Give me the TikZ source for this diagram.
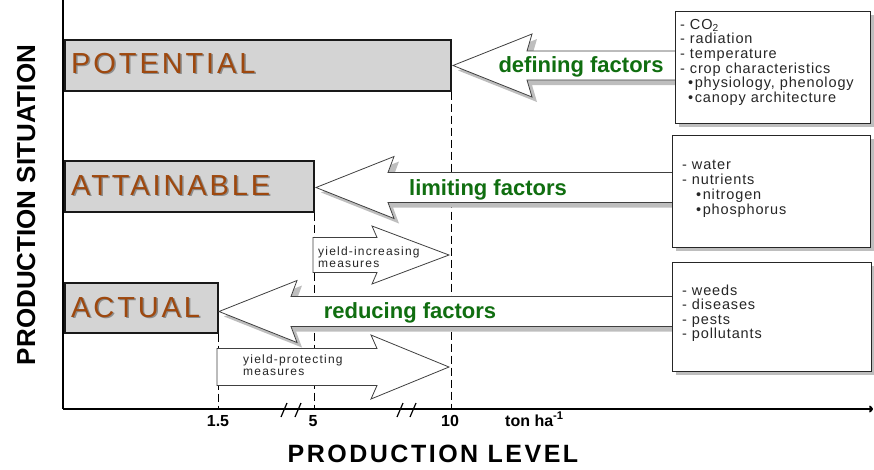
\documentclass[tikz,border=0pt]{standalone}
\usepackage{fontspec}
\setmainfont{Liberation Sans}
\newfontfamily\lblfont[LetterSpace=10]{Liberation Sans}
\newfontfamily\listfont[LetterSpace=6]{Liberation Sans}
\newfontfamily\smallfont[LetterSpace=10]{Liberation Sans}
\newfontfamily\levelfont[LetterSpace=10]{Liberation Sans}
\usetikzlibrary{arrows.meta}
\definecolor{brownlbl}{RGB}{158,72,14}
\definecolor{boxgray}{RGB}{212,212,212}
\definecolor{shadowgray}{RGB}{190,190,190}
\definecolor{greenlbl}{RGB}{16,110,16}
\newcommand{\leftbigarrow}[7]{%
  \fill[shadowgray,shift={(5,5)}] (#1,#2) -- (#3,#2-#7) -- (#4,#2-#6) -- (#5,#2-#6) -- (#5,#2+#6) -- (#4,#2+#6) -- (#3,#2+#7) -- cycle;
  \filldraw[fill=white,draw=black!75,line width=0.8pt] (#1,#2) -- (#3,#2-#7) -- (#4,#2-#6) -- (#5,#2-#6) -- (#5,#2+#6) -- (#4,#2+#6) -- (#3,#2+#7) -- cycle;}
\newcommand{\rightbigarrow}[7]{%
  \filldraw[fill=white,draw=black!75,line width=0.8pt] (#5,#2-#6) -- (#4,#2-#6) -- (#3,#2-#7) -- (#1,#2) -- (#3,#2+#7) -- (#4,#2+#6) -- (#5,#2+#6) -- cycle;}
\begin{document}
\begin{tikzpicture}[x=1pt,y=-1pt,
  lblbox/.style={draw=black!90,line width=1.5pt,fill=boxgray,inner sep=0pt,anchor=north west},
  infobox/.style={draw=black!85,line width=1pt,fill=white,inner sep=0pt,anchor=north west},
  boxshadow/.style={fill=shadowgray,draw=none,inner sep=0pt,anchor=north west},
  lbltxt/.style={anchor=base west,inner sep=0pt,text=brownlbl,font=\lblfont\fontsize{29}{29}\selectfont},
  lblshadow/.style={anchor=base west,inner sep=0pt,text=black!45,font=\lblfont\fontsize{29}{29}\selectfont},
  factortxt/.style={anchor=base,inner sep=0pt,text=greenlbl,font=\bfseries\fontsize{22}{22}\selectfont},
  listtxt/.style={anchor=base west,inner sep=0pt,text=black!85,font=\listfont\fontsize{14.5}{14.5}\selectfont},
  smalltxt/.style={anchor=base west,inner sep=0pt,text=black!85,font=\smallfont\fontsize{12}{12}\selectfont},
  ticktxt/.style={anchor=base,inner sep=0pt,font=\bfseries\fontsize{16}{16}\selectfont},
  dashline/.style={line width=1.8pt,dash pattern=on 8pt off 4pt},
  axisline/.style={line width=2pt}
]
\useasboundingbox (0,0) rectangle (874,469);

% axes
\coordinate (ytop) at (63,0);
\coordinate (o) at (63,409);
\coordinate (xend) at (873,409);

% production situation boxes
\node[lblbox,minimum width=386pt,minimum height=51pt] (pot) at (64,39) {};
\node[lblbox,minimum width=249pt,minimum height=51pt] (att) at (64,160) {};
\node[lblbox,minimum width=153pt,minimum height=50pt] (act) at (64,282) {};

% dashed level lines
\draw[dashline] (pot.south east) -- (pot.south east |- o);
\draw[dashline] (att.south east) -- (att.south east |- o);
\draw[dashline] (act.south east) -- (act.south east |- o);

% big arrows
\leftbigarrow{453}{65.5}{532}{527}{676}{14.5}{31.5}
\leftbigarrow{316}{187.5}{394}{388}{673}{15}{31}
\leftbigarrow{219}{311.5}{297}{291}{673}{15}{31}
\rightbigarrow{449}{255}{372}{377}{313}{17.5}{29}
\rightbigarrow{449}{367}{371}{377}{217}{18.5}{32}

% axes on top
\draw[axisline] (ytop) -- (o);
\draw[axisline,-{To[length=4pt,width=7pt]}] (o) -- (xend);

% break marks
\draw[line width=1.2pt] (281,417) -- (287,403) (295,417) -- (301,403);
\draw[line width=1.2pt] (397,417) -- (403,403) (410,417) -- (416,403);

% labels in boxes
\node[lblshadow] (potS) at (72.5,74.5) {POTENTIAL};
\node[lbltxt] (potL) at (71,73) {POTENTIAL};
\node[lblshadow] (attS) at (72.5,196.5) {ATTAINABLE};
\node[lbltxt] (attL) at (71,195) {ATTAINABLE};
\node[lblshadow] (actS) at (72.5,318.5) {ACTUAL};
\node[lbltxt] (actL) at (71,317) {ACTUAL};

% factor labels
\node[factortxt] (defT) at (581,72) {defining factors};
\node[factortxt] (limT) at (488,195) {limiting factors};
\node[factortxt] (redT) at (410,318) {reducing factors};

% measure labels
\node[smalltxt] (yi1) at (318,255.5) {yield-increasing};
\node[smalltxt] (yi2) at (318,267.5) {measures};
\node[smalltxt] (yp1) at (243,363.5) {yield-protecting};
\node[smalltxt] (yp2) at (243,375.5) {measures};

% info boxes with shadows
\node[boxshadow,minimum width=195pt,minimum height=112pt] (defSh) at (679,15) {};
\node[infobox,minimum width=195pt,minimum height=112pt] (defB) at (675,11) {};
\node[boxshadow,minimum width=198pt,minimum height=112pt] (limSh) at (676,139) {};
\node[infobox,minimum width=198pt,minimum height=112pt] (limB) at (672,135) {};
\node[boxshadow,minimum width=199pt,minimum height=109pt] (redSh) at (676,266) {};
\node[infobox,minimum width=199pt,minimum height=109pt] (redB) at (672,262) {};

% defining list
\node[listtxt] (d1) at (680,29) {- CO\textsubscript{2}};
\node[listtxt] (d2) at (680,43.7) {- radiation};
\node[listtxt] (d3) at (680,58.4) {- temperature};
\node[listtxt] (d4) at (680,73.1) {- crop characteristics};
\node[listtxt] (d5) at (688,87.8) {\textbullet\hspace{1.5pt}physiology, phenology};
\node[listtxt] (d6) at (688,102.5) {\textbullet\hspace{1.5pt}canopy architecture};

% limiting list
\node[listtxt] (l1) at (682,169) {- water};
\node[listtxt] (l2) at (682,184) {- nutrients};
\node[listtxt] (l3) at (696,199) {\textbullet\hspace{1.5pt}nitrogen};
\node[listtxt] (l4) at (696,214) {\textbullet\hspace{1.5pt}phosphorus};

% reducing list
\node[listtxt] (r1) at (682,295) {- weeds};
\node[listtxt] (r2) at (682,309) {- diseases};
\node[listtxt] (r3) at (682,324) {- pests};
\node[listtxt] (r4) at (682,338) {- pollutants};

% tick labels
\node[ticktxt] (t15) at (218,426) {1.5};
\node[ticktxt] (t5) at (313,426) {5};
\node[ticktxt] (t10) at (450,426) {10};
\node[ticktxt,anchor=base west] (unit) at (505,426) {ton ha\textsuperscript{-1}};

% axis titles
\node[anchor=base,inner sep=0pt,font=\levelfont\bfseries\fontsize{25}{25}\selectfont] (xlab) at (433,462) {PRODUCTION LEVEL};
\node[anchor=base,inner sep=0pt,rotate=90,font=\bfseries\fontsize{26}{26}\selectfont] (ylab) at (35,205) {PRODUCTION SITUATION};
\end{tikzpicture}
\end{document}
